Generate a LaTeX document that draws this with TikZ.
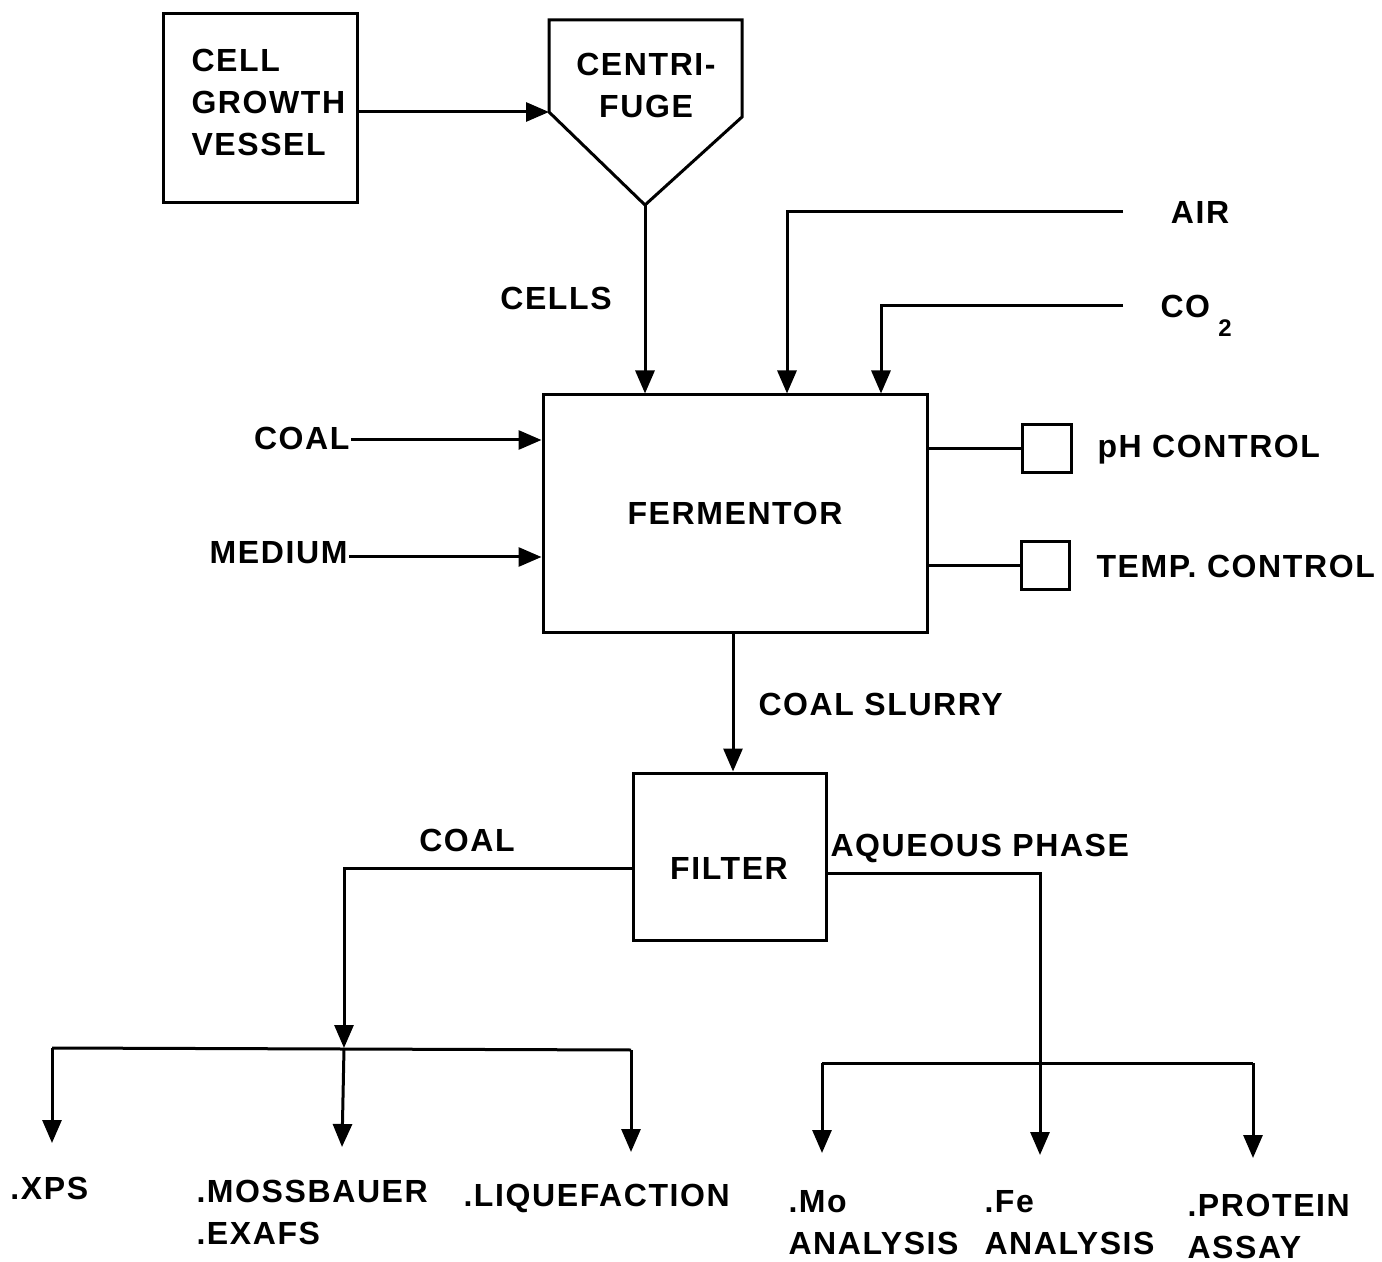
\documentclass[tikz,border=0pt]{standalone}
\usepackage{fontspec}
\setmainfont{Liberation Sans}[LetterSpace=5]
\usetikzlibrary{arrows.meta}
\begin{document}
\begin{tikzpicture}[x=0.5pt,y=-0.5pt,
  line width=1.5pt,
  every node/.style={font=\fontsize{16}{21}\selectfont\bfseries, inner sep=0pt},
  box/.style={draw, line width=1.5pt},
  lbl/.style={anchor=west, align=left},
  arr/.style={-{Triangle[length=11.5pt,width=9.5pt]}}]
\useasboundingbox (0,0) rectangle (1382,1262);

% boxes
\node[box, minimum width=97pt, minimum height=94.5pt] (vessel) at (260,108.5) {};
\node[lbl] (vesseltxt) at (190,102) {CELL\\GROWTH\\VESSEL};
\coordinate (ctl) at (549,20);
\coordinate (ctr) at (742,20);
\coordinate (crs) at (742,117);
\coordinate (cbot) at (645,205);
\coordinate (cin) at (549,112);
\draw (cin) -- (ctl) -- (ctr) -- (crs) -- (cbot) -- cycle;
\node[align=center] (centtxt) at (646,85) {CENTRI-\\FUGE};

\node[box, minimum width=192pt, minimum height=118.5pt] (ferm) at (735,513.5) {};
\node (fermtxt) at (735,513) {FERMENTOR};

\node[box, minimum width=96.5pt, minimum height=83.5pt] (filter) at (729.5,856.5) {};
\node (filtertxt) at (729,868) {FILTER};

\node[box, minimum width=24.5pt, minimum height=24pt] (ph) at (1046.5,449) {};
\node[box, minimum width=24pt, minimum height=23.5pt] (temp) at (1045,565.5) {};
\node[lbl] (phtxt) at (1096,450) {pH CONTROL};
\node[lbl] (temptxt) at (1095,566) {TEMP. CONTROL};

% text labels
\node (cells) at (556,298) {CELLS};
\node (air) at (1200,212) {AIR};
\node[lbl] (co) at (1159,306) {CO};
\node (two) at (1225,328) {\fontsize{12}{14}\selectfont 2};
\node[anchor=east] (coal) at (351,438) {COAL};
\node[anchor=east] (medium) at (349,553) {MEDIUM};
\node[lbl] (slurry) at (757,704) {COAL SLURRY};
\node (coal2) at (467,840) {COAL};
\node[lbl] (aq) at (829,848) {AQUEOUS PHASE};

\node[lbl] (xps) at (9,1188) {.XPS};
\node[lbl] (moss) at (195,1212) {.MOSSBAUER\\.EXAFS};
\node[lbl] (liq) at (462,1198) {.LIQUEFACTION};
\node[lbl] (mo) at (787,1223) {.Mo\\ANALYSIS};
\node[lbl] (fe) at (983,1223) {.Fe\\ANALYSIS};
\node[lbl] (prot) at (1186,1226) {.PROTEIN\\ASSAY};

% connectors
\draw[arr] (vessel.east |- cin) -- (cin);
\draw[arr] (cbot) -- (cbot |- ferm.north);
\coordinate (airstart) at (1123,212);
\coordinate (airx) at (787,212);
\draw[arr] (airstart) -- (airx) -- (airx |- ferm.north);
\coordinate (costart) at (1123,306);
\coordinate (cox) at (881,306);
\draw[arr] (costart) -- (cox) -- (cox |- ferm.north);
\draw[arr] (coal.east) ++(0,2) -- (ferm.west |- 0,440);
\draw[arr] (medium.east) ++(0,4) -- (ferm.west |- 0,557);
\draw (ferm.east |- ph) -- (ph.west);
\draw (ferm.east |- temp) -- (temp.west);
\draw[arr] (ferm.south -| 733,0) -- (filter.north -| 733,0);

% coal branch
\coordinate (cj) at (344,1048);
\draw[arr] (filter.west |- 0,868) -| (cj);
\coordinate (l1) at (52,1048);
\coordinate (l3) at (631,1050);
\coordinate (t1) at (52,1143);
\coordinate (t2) at (342,1147);
\coordinate (t3) at (631,1152);
\draw (l1) -- (l3);
\draw[arr] (l1) -- (t1);
\draw[arr] (cj) -- (t2);
\draw[arr] (l3) -- (t3);

% aqueous branch
\coordinate (r1) at (822,1063);
\coordinate (r3) at (1253,1063);
\coordinate (u1) at (822,1153);
\coordinate (u2) at (1040,1155);
\coordinate (u3) at (1253,1158);
\draw[arr] (filter.east |- 0,873) -| (u2);
\draw (r1) -- (r3);
\draw[arr] (r1) -- (u1);
\draw[arr] (r3) -- (u3);
\end{tikzpicture}
\end{document}
